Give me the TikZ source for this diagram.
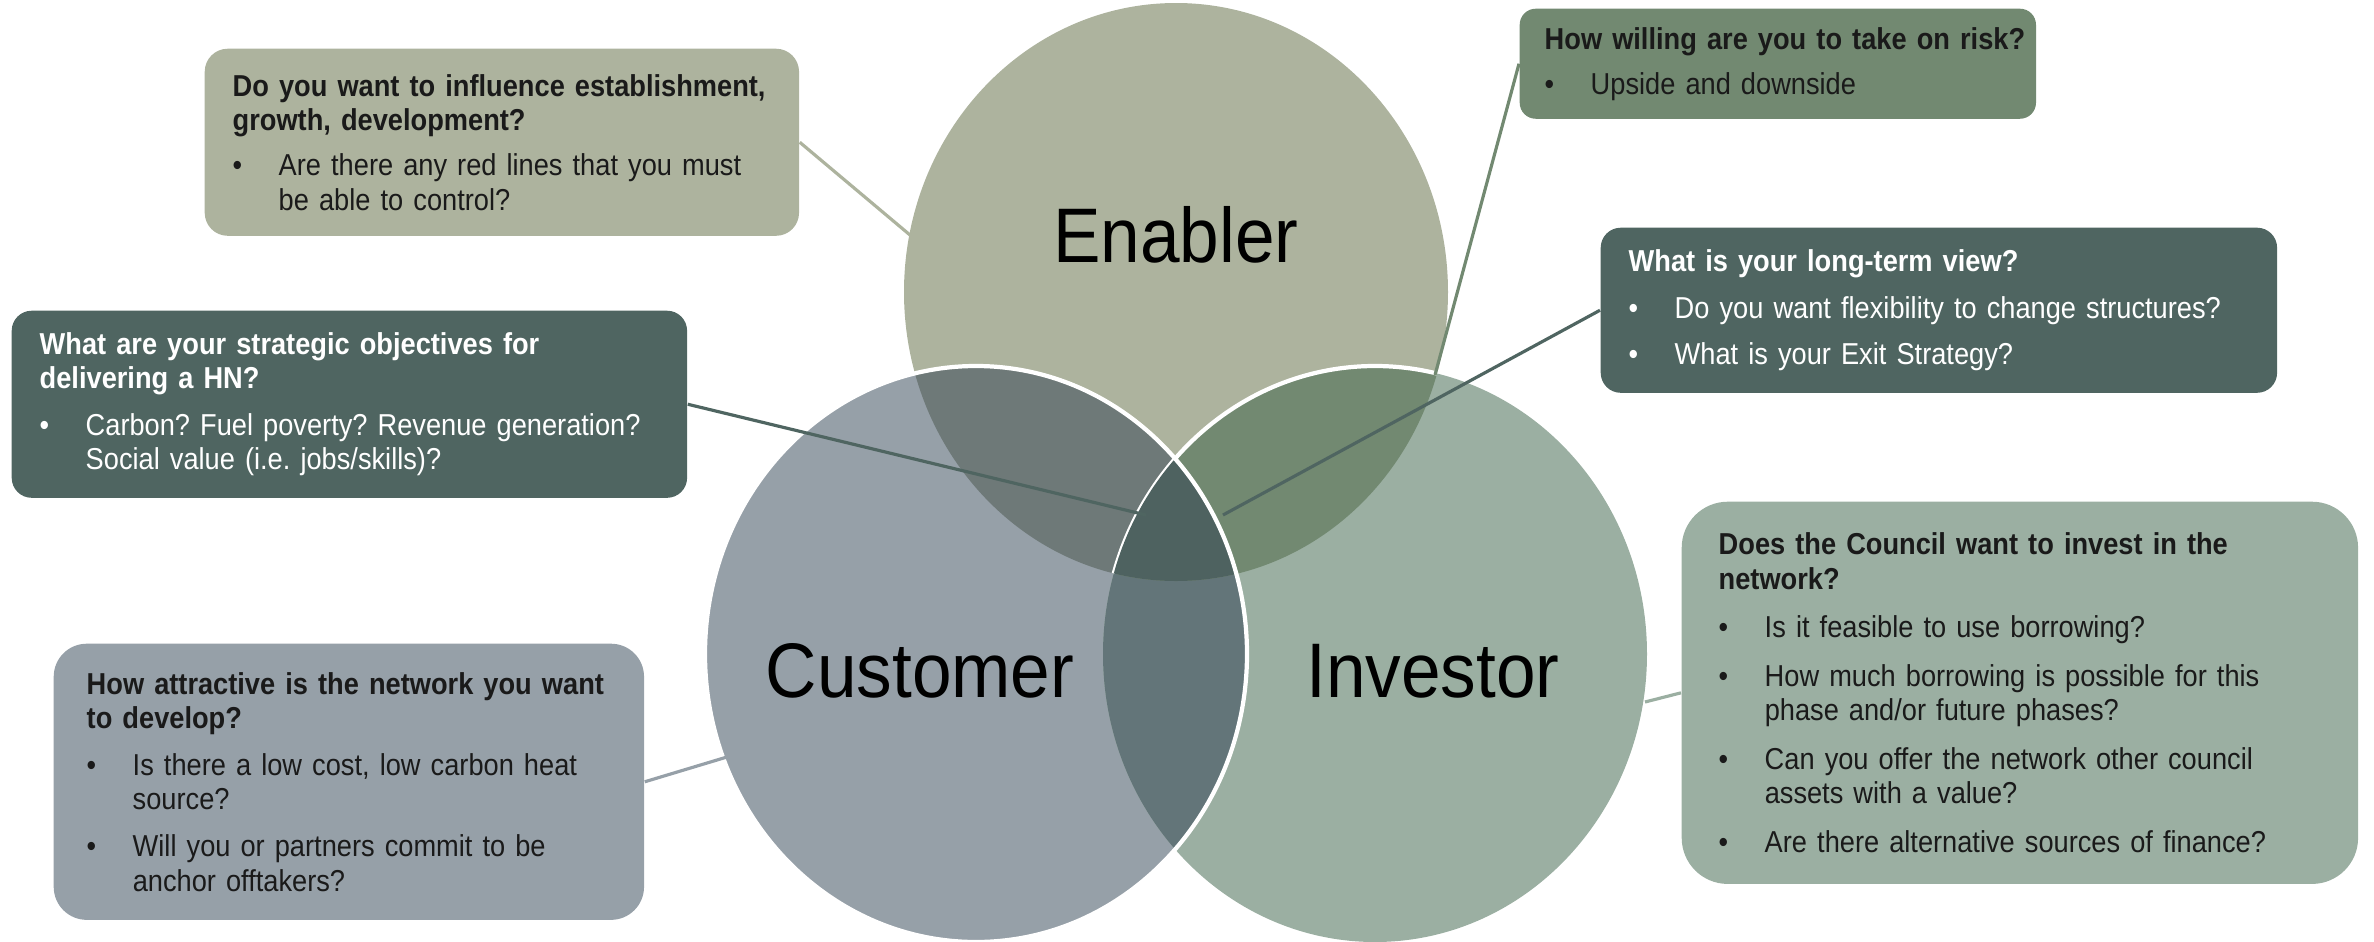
\documentclass[tikz,border=0pt]{standalone}
\usepackage{fontspec}
\setmainfont{Liberation Sans}
\newfontfamily\boxfont[FakeStretch=0.9]{Liberation Sans}
\newfontfamily\vennfont[FakeStretch=0.92]{Liberation Sans}
\frenchspacing

\definecolor{enablerc}{HTML}{ADB39E}
\definecolor{customerc}{HTML}{96A0A8}
\definecolor{investorc}{HTML}{9BAFA2}
\definecolor{ecc}{HTML}{6E7978}
\definecolor{eic}{HTML}{728971}
\definecolor{cic}{HTML}{637579}
\definecolor{ecic}{HTML}{4E6260}
\definecolor{darkc}{HTML}{4F6561}
\definecolor{inkc}{HTML}{1A1A1A}

\newcommand{\enablerpath}{(1176,292) ellipse [x radius=272, y radius=289]}
\newcommand{\customerpath}{(976,654) ellipse [x radius=271, y radius=288]}
\newcommand{\investorpath}{(1375,654) ellipse [x radius=272, y radius=288]}
\newcommand{\qbullet}{\makebox[0.46cm][l]{\textbullet}}
\newcommand{\qindent}{\hspace*{0.46cm}}

\begin{document}
\begin{tikzpicture}[x=0.01cm, y=-0.01cm,
	qbox/.style={anchor=north west, inner xsep=0.28cm, inner ysep=0pt, align=left, text=inkc, font=\boxfont\fontsize{8.6}{9.8}\selectfont\frenchspacing},
	link/.style={line width=0.9pt},
	vennlabel/.style={font=\vennfont\fontsize{22}{26}\selectfont}]
	\useasboundingbox (0,0) rectangle (2374,942);

	% the three sets
	\fill[enablerc] \enablerpath;
	\fill[customerc] \customerpath;
	\fill[investorc] \investorpath;
	\begin{scope}
		\clip \customerpath;
		\fill[cic] \investorpath;
	\end{scope}
	\begin{scope}
		\clip \enablerpath;
		\fill[ecc] \customerpath;
		\fill[eic] \investorpath;
		\draw[white, line width=1.2pt] \investorpath;
		\clip \customerpath;
		\fill[ecic] \investorpath;
	\end{scope}
	\draw[white, line width=1.2pt] \customerpath;

	\node[vennlabel] (lEnabler) at (1176,235) {Enabler};
	\node[vennlabel] (lCustomer) at (920,671) {Customer};
	\node[vennlabel] (lInvestor) at (1433,671) {Investor};

	\coordinate (eGrowth) at (910,235);
	\coordinate (eRisk) at (1435,375);
	\coordinate (eView) at (1223,515);
	\coordinate (eGoals) at (1146,515);
	\coordinate (eNetwork) at (727,757);
	\coordinate (eFinance) at (1645,702);

	% question boxes
	\node[qbox, fill=enablerc, rounded corners=0.23cm, text width=5.38cm, minimum height=1.87cm] (qGrowth) at (204,48)
		{\textbf{Do you want to influence establishment,}\\
		\textbf{growth, development?}\\[3pt]
		\qbullet Are there any red lines that you must\\
		\qindent be able to control?};
	\node[qbox, fill=eic, rounded corners=0.16cm, inner xsep=0.25cm, text width=4.66cm, minimum height=1.10cm] (qRisk) at (1519,8)
		{\mbox{\textbf{How willing are you to take on risk?}}\\[3pt]
		\qbullet Upside and downside};
	\node[qbox, fill=darkc, text=white, rounded corners=0.2cm, text width=6.20cm, minimum height=1.65cm] (qView) at (1600,227)
		{\textbf{What is your long-term view?}\\[3.5pt]
		\qbullet Do you want flexibility to change structures?\\[3.5pt]
		\qbullet What is your Exit Strategy?};
	\node[qbox, fill=darkc, text=white, rounded corners=0.2cm, text width=6.19cm, minimum height=1.87cm] (qGoals) at (11,310)
		{\textbf{What are your strategic objectives for}\\
		\textbf{delivering a HN?}\\[3.5pt]
		\qbullet Carbon? Fuel poverty? Revenue generation?\\
		\qindent Social value (i.e. jobs/skills)?};
	\node[qbox, fill=customerc, rounded corners=0.33cm, inner xsep=0.33cm, text width=5.24cm, minimum height=2.76cm] (qNetwork) at (53,643)
		{\textbf{How attractive is the network you want}\\
		\textbf{to develop?}\\[3.5pt]
		\qbullet Is there a low cost, low carbon heat\\
		\qindent source?\\[3.5pt]
		\qbullet Will you or partners commit to be\\
		\qindent anchor offtakers?};
	\node[qbox, fill=investorc, rounded corners=0.46cm, inner xsep=0.37cm, text width=6.02cm, minimum height=3.82cm] (qFinance) at (1681,501)
		{\textbf{Does the Council want to invest in the}\\
		\textbf{network?}\\[4pt]
		\qbullet Is it feasible to use borrowing?\\[4pt]
		\qbullet How much borrowing is possible for this\\
		\qindent phase and/or future phases?\\[4pt]
		\qbullet Can you offer the network other council\\
		\qindent assets with a value?\\[4pt]
		\qbullet Are there alternative sources of finance?};

	\draw[link, enablerc] (qGrowth.east) -- (eGrowth);
	\draw[link, eic] (qRisk.west) -- (eRisk);
	\draw[link, darkc] (qView.west) -- (eView);
	\draw[link, darkc] (qGoals.east) -- (eGoals);
	\draw[link, customerc] (qNetwork.east) -- (eNetwork);
	\draw[link, investorc] (qFinance.west) -- (eFinance);
\end{tikzpicture}
\end{document}
